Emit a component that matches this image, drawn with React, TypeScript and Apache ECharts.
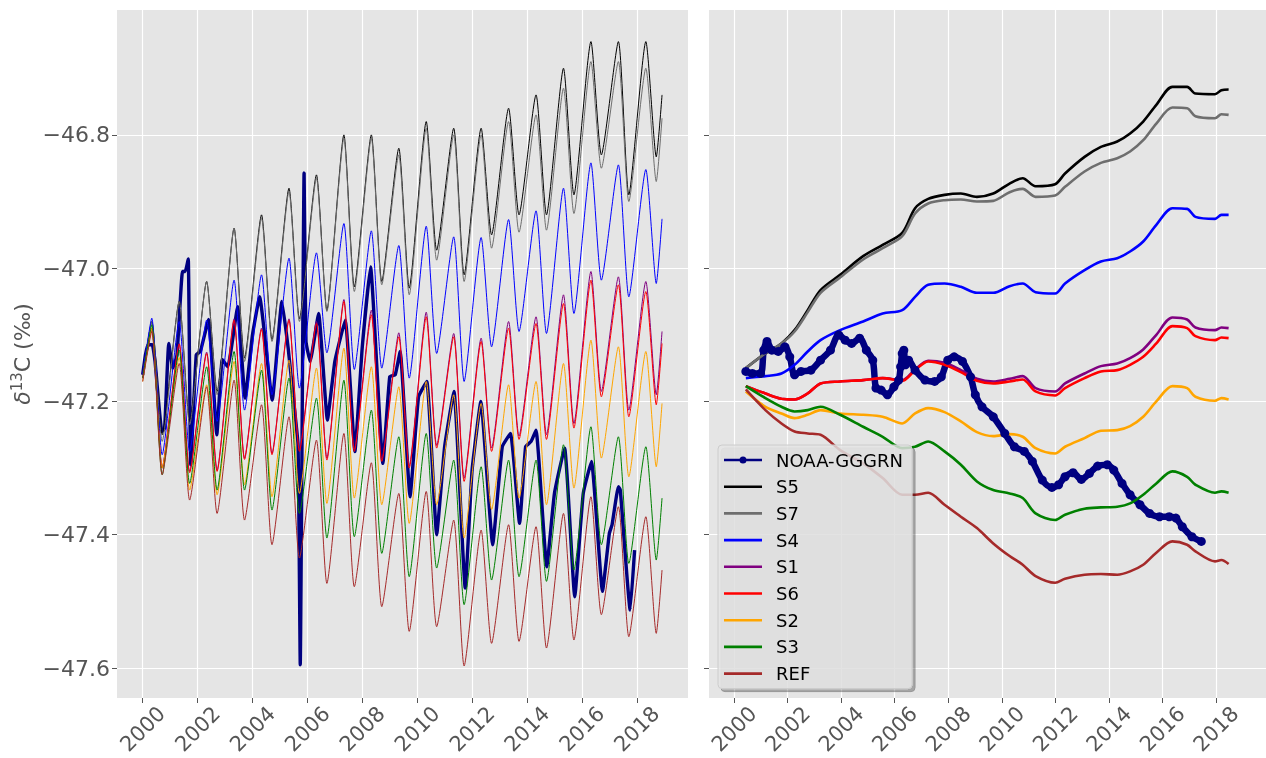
import React, { useEffect, useRef } from "react";
import * as echarts from "echarts";

const FONT = "DejaVu Sans";
const NAMES = ["NOAA-GGGRN", "S5", "S7", "S4", "S1", "S6", "S2", "S3", "REF"];
const COLORS: Record<string, string> = {
  "NOAA-GGGRN": "#000080",
  S5: "#000000",
  S7: "#6e6e6e",
  S4: "#0000ff",
  S1: "#800080",
  S6: "#ff0000",
  S2: "#ffa500",
  S3: "#008000",
  REF: "#a52a2a",
};
const LINE_ICON = "path://M0 0H38V2.6H0Z";
const DOT_ICON = "path://M0 3H38V5.6H0Z M15.5 4.3A3.5 3.5 0 1 1 22.5 4.3A3.5 3.5 0 1 1 15.5 4.3Z";

// ---------- axes ----------
const X_MIN = 1999.064;
const X_MAX = 2019.866;
const Y_MIN = -47.645;
const Y_MAX = -46.6126;
const X_TICKS = [2000, 2002, 2004, 2006, 2008, 2010, 2012, 2014, 2016, 2018];
const Y_TICKS = [-47.6, -47.4, -47.2, -47.0, -46.8];

// ---------- left panel: seasonal cycles (start, yearly peaks & troughs, end) ----------
const CYCLE_YEARS = [2000, 2001, 2002, 2003, 2004, 2005, 2006, 2007, 2008, 2009, 2010, 2011, 2012, 2013, 2014, 2015, 2016, 2017, 2018];
const PEAK_TIME = 0.33;
const TROUGH_TIME = 0.71;
const START_TIME = 2000.0;
const END_TIME = 2018.92;

const S5_ENDS = [-47.16, -46.74];
const S5_PEAKS = [-47.08, -47.05, -47.02, -46.94, -46.92, -46.88, -46.86, -46.8, -46.8, -46.82, -46.78, -46.79, -46.79, -46.76, -46.74, -46.7, -46.66, -46.66, -46.66];
const S5_TROUGHS = [-47.25, -47.23, -47.185, -47.135, -47.107, -47.076, -47.063, -47.028, -47.02, -47.03, -46.973, -47.01, -46.95, -46.92, -46.92, -46.89, -46.83, -46.89, -46.833];

const S7_ENDS = [-47.16, -46.775];
const S7_PEAKS = [-47.08, -47.05, -47.02, -46.94, -46.925, -46.885, -46.865, -46.805, -46.805, -46.83, -46.79, -46.8, -46.8, -46.78, -46.77, -46.73, -46.69, -46.69, -46.7];
const S7_TROUGHS = [-47.26, -47.235, -47.19, -47.14, -47.11, -47.08, -47.065, -47.035, -47.025, -47.04, -46.988, -47.02, -46.97, -46.946, -46.943, -46.918, -46.85, -46.9, -46.87];

const S4_ENDS = [-47.16, -46.926];
const S4_PEAKS = [-47.075, -47.08, -47.078, -47.018, -47.01, -46.985, -46.977, -46.933, -46.944, -46.966, -46.937, -46.953, -46.954, -46.927, -46.914, -46.88, -46.842, -46.845, -46.852];
const S4_TROUGHS = [-47.28, -47.275, -47.23, -47.213, -47.19, -47.18, -47.127, -47.152, -47.15, -47.165, -47.128, -47.17, -47.118, -47.095, -47.098, -47.068, -47.018, -47.043, -47.023];

const S1_ENDS = [-47.165, -47.095];
const S1_PEAKS = [-47.09, -47.113, -47.126, -47.076, -47.09, -47.076, -47.08, -47.047, -47.063, -47.097, -47.066, -47.098, -47.105, -47.08, -47.073, -47.04, -47.005, -47.013, -47.02];
const S1_TROUGHS = [-47.3, -47.305, -47.303, -47.285, -47.278, -47.272, -47.285, -47.272, -47.287, -47.297, -47.266, -47.315, -47.27, -47.252, -47.25, -47.233, -47.185, -47.213, -47.19];

const S6_ENDS = [-47.165, -47.113];
const S6_PEAKS = [-47.09, -47.114, -47.128, -47.078, -47.092, -47.078, -47.083, -47.05, -47.07, -47.103, -47.073, -47.103, -47.11, -47.09, -47.083, -47.053, -47.018, -47.025, -47.035];
const S6_TROUGHS = [-47.3, -47.307, -47.305, -47.287, -47.28, -47.275, -47.288, -47.275, -47.29, -47.3, -47.27, -47.32, -47.275, -47.257, -47.257, -47.24, -47.193, -47.223, -47.205];

const S2_ENDS = [-47.17, -47.203];
const S2_PEAKS = [-47.09, -47.134, -47.175, -47.14, -47.143, -47.138, -47.15, -47.12, -47.148, -47.178, -47.17, -47.19, -47.203, -47.175, -47.17, -47.143, -47.108, -47.118, -47.125];
const S2_TROUGHS = [-47.3, -47.333, -47.34, -47.325, -47.343, -47.338, -47.353, -47.345, -47.355, -47.383, -47.355, -47.405, -47.362, -47.345, -47.355, -47.33, -47.285, -47.313, -47.298];

const S3_ENDS = [-47.165, -47.345];
const S3_PEAKS = [-47.085, -47.123, -47.148, -47.125, -47.153, -47.165, -47.195, -47.168, -47.213, -47.253, -47.248, -47.288, -47.298, -47.288, -47.288, -47.265, -47.238, -47.253, -47.268];
const S3_TROUGHS = [-47.31, -47.323, -47.333, -47.333, -47.363, -47.368, -47.405, -47.403, -47.428, -47.463, -47.45, -47.505, -47.468, -47.463, -47.47, -47.453, -47.415, -47.443, -47.438];

const REF_ENDS = [-47.17, -47.453];
const REF_PEAKS = [-47.095, -47.143, -47.178, -47.168, -47.205, -47.223, -47.258, -47.248, -47.292, -47.338, -47.335, -47.378, -47.393, -47.385, -47.388, -47.368, -47.343, -47.358, -47.373];
const REF_TROUGHS = [-47.31, -47.348, -47.368, -47.378, -47.415, -47.435, -47.473, -47.478, -47.508, -47.545, -47.538, -47.597, -47.563, -47.56, -47.57, -47.558, -47.52, -47.553, -47.548];

// NOAA monthly record (left panel)
const NOAA_MONTH_T = [2000.0, 2000.1, 2000.2, 2000.35, 2000.45, 2000.7, 2000.8, 2000.95, 2001.1, 2001.25, 2001.45, 2001.55, 2001.66, 2001.75, 2001.95, 2002.1, 2002.4, 2002.7, 2002.9, 2003.1, 2003.46, 2003.73, 2004.0, 2004.26, 2004.72, 2005.07, 2005.3, 2005.5, 2005.66, 2005.74, 2005.88, 2005.95, 2006.1, 2006.41, 2006.73, 2007.0, 2007.38, 2007.73, 2008.0, 2008.3, 2008.75, 2009.0, 2009.2, 2009.38, 2009.74, 2010.05, 2010.35, 2010.71, 2011.0, 2011.34, 2011.75, 2012.0, 2012.32, 2012.75, 2013.1, 2013.4, 2013.73, 2013.95, 2014.15, 2014.33, 2014.72, 2015.0, 2015.37, 2015.74, 2016.05, 2016.35, 2016.75, 2017.0, 2017.1, 2017.33, 2017.4, 2017.76, 2017.92];
const NOAA_MONTH_V = [-47.16, -47.13, -47.115, -47.115, -47.14, -47.245, -47.24, -47.113, -47.15, -47.13, -47.005, -47.005, -46.986, -47.295, -47.13, -47.125, -47.077, -47.25, -47.137, -47.148, -47.058, -47.195, -47.1, -47.043, -47.198, -47.05, -47.12, -47.2, -47.265, -47.595, -46.857, -47.11, -47.14, -47.068, -47.228, -47.14, -47.078, -47.275, -47.118, -46.998, -47.293, -47.163, -47.16, -47.125, -47.343, -47.193, -47.17, -47.4, -47.268, -47.185, -47.48, -47.303, -47.2, -47.415, -47.268, -47.248, -47.383, -47.268, -47.26, -47.243, -47.448, -47.338, -47.27, -47.493, -47.338, -47.29, -47.485, -47.398, -47.385, -47.328, -47.333, -47.513, -47.423];

// ---------- right panel: smoothed trends ----------
const TREND_T = [2000.44, 2001.17, 2001.77, 2002.26, 2002.75, 2003.23, 2003.96, 2004.82, 2005.55, 2006.28, 2006.76, 2007.25, 2007.86, 2008.47, 2009.07, 2009.68, 2010.29, 2010.78, 2011.26, 2011.99, 2012.36, 2013.09, 2013.7, 2014.31, 2014.79, 2015.28, 2015.77, 2016.37, 2016.92, 2017.23, 2017.96, 2018.2, 2018.47];
const S5_TREND = [-47.15, -47.128, -47.113, -47.093, -47.063, -47.033, -47.01, -46.982, -46.965, -46.947, -46.91, -46.896, -46.89, -46.888, -46.893, -46.888, -46.873, -46.865, -46.877, -46.874, -46.858, -46.833, -46.818, -46.81, -46.798, -46.78, -46.755, -46.728, -46.728, -46.738, -46.739, -46.733, -46.732];
const S7_TREND = [-47.15, -47.128, -47.113, -47.095, -47.066, -47.037, -47.014, -46.987, -46.97, -46.952, -46.918, -46.903, -46.898, -46.897, -46.9, -46.899, -46.886, -46.881, -46.893, -46.891, -46.878, -46.855, -46.842, -46.835, -46.825, -46.808, -46.783, -46.759, -46.76, -46.772, -46.775, -46.769, -46.77];
const S4_TREND = [-47.165, -47.162, -47.158, -47.145, -47.125, -47.108, -47.093, -47.08, -47.068, -47.063, -47.043, -47.025, -47.023, -47.028, -47.037, -47.037, -47.027, -47.023, -47.036, -47.038, -47.023, -47.003, -46.99, -46.985, -46.975, -46.96, -46.935, -46.91, -46.911, -46.923, -46.926, -46.92, -46.92];
const S1_TREND = [-47.177, -47.188, -47.196, -47.197, -47.188, -47.173, -47.17, -47.168, -47.165, -47.168, -47.152, -47.139, -47.142, -47.153, -47.166, -47.17, -47.166, -47.162, -47.18, -47.185, -47.173, -47.158, -47.147, -47.143, -47.135, -47.122, -47.1, -47.074, -47.077, -47.089, -47.093, -47.089, -47.09];
const S6_TREND = [-47.177, -47.188, -47.196, -47.197, -47.188, -47.173, -47.17, -47.168, -47.165, -47.169, -47.153, -47.14, -47.145, -47.156, -47.169, -47.173, -47.17, -47.167, -47.185, -47.191, -47.18, -47.165, -47.155, -47.153, -47.145, -47.133, -47.113, -47.087, -47.09, -47.102, -47.108, -47.104, -47.105];
const S2_TREND = [-47.185, -47.208, -47.218, -47.225, -47.22, -47.213, -47.218, -47.22, -47.223, -47.233, -47.218, -47.21, -47.216, -47.23, -47.246, -47.252, -47.249, -47.253, -47.27, -47.278, -47.268, -47.255, -47.244, -47.243, -47.237, -47.223, -47.2, -47.177, -47.18, -47.193, -47.199, -47.195, -47.197];
const S3_TREND = [-47.177, -47.195, -47.208, -47.215, -47.213, -47.208, -47.22, -47.238, -47.253, -47.27, -47.268, -47.26, -47.275, -47.295, -47.32, -47.333, -47.338, -47.345, -47.368, -47.378, -47.37, -47.361, -47.359, -47.358, -47.353, -47.34, -47.323, -47.305, -47.313, -47.325, -47.337, -47.335, -47.337];
const REF_TREND = [-47.182, -47.213, -47.233, -47.245, -47.248, -47.25, -47.273, -47.293, -47.315, -47.34, -47.34, -47.337, -47.355, -47.373, -47.39, -47.413, -47.432, -47.445, -47.462, -47.472, -47.466, -47.46, -47.459, -47.46, -47.455, -47.445, -47.427, -47.41, -47.415, -47.425, -47.44, -47.438, -47.444];

const NOAA_TREND_T = [2000.44, 2000.68, 2000.99, 2001.11, 2001.23, 2001.41, 2001.65, 2001.9, 2002.08, 2002.26, 2002.5, 2002.87, 2003.23, 2003.6, 2003.91, 2004.15, 2004.39, 2004.69, 2004.94, 2005.18, 2005.3, 2005.49, 2005.73, 2005.97, 2006.15, 2006.22, 2006.28, 2006.34, 2006.4, 2006.52, 2006.76, 2007.13, 2007.49, 2007.74, 2007.98, 2008.22, 2008.53, 2008.83, 2009.01, 2009.26, 2009.68, 2010.11, 2010.47, 2010.84, 2011.14, 2011.51, 2011.87, 2012.12, 2012.36, 2012.66, 2012.97, 2013.27, 2013.58, 2013.94, 2014.18, 2014.49, 2014.79, 2015.16, 2015.52, 2015.89, 2016.25, 2016.5, 2016.74, 2017.1, 2017.45];
const NOAA_TREND_V = [-47.155, -47.158, -47.158, -47.123, -47.11, -47.123, -47.125, -47.118, -47.133, -47.16, -47.155, -47.153, -47.138, -47.123, -47.1, -47.108, -47.113, -47.105, -47.123, -47.138, -47.18, -47.183, -47.19, -47.178, -47.168, -47.148, -47.128, -47.123, -47.145, -47.138, -47.153, -47.168, -47.17, -47.163, -47.138, -47.133, -47.14, -47.163, -47.19, -47.208, -47.223, -47.248, -47.268, -47.275, -47.29, -47.318, -47.329, -47.325, -47.313, -47.307, -47.317, -47.308, -47.297, -47.295, -47.303, -47.323, -47.34, -47.355, -47.368, -47.373, -47.373, -47.375, -47.388, -47.403, -47.41];

// ---------- builders ----------
function cycle(ends: number[], peaks: number[], troughs: number[]): number[][] {
  const pts: number[][] = [[START_TIME, ends[0]]];
  CYCLE_YEARS.forEach((y, i) => {
    pts.push([y + PEAK_TIME, peaks[i]]);
    pts.push([y + TROUGH_TIME, troughs[i]]);
  });
  pts.push([END_TIME, ends[1]]);
  return pts;
}
function zip(t: number[], v: number[]): number[][] {
  return t.map((x, i) => [x, v[i]]);
}

const LEFT_DATA: Record<string, number[][]> = {
  "NOAA-GGGRN": zip(NOAA_MONTH_T, NOAA_MONTH_V),
  S5: cycle(S5_ENDS, S5_PEAKS, S5_TROUGHS),
  S7: cycle(S7_ENDS, S7_PEAKS, S7_TROUGHS),
  S4: cycle(S4_ENDS, S4_PEAKS, S4_TROUGHS),
  S1: cycle(S1_ENDS, S1_PEAKS, S1_TROUGHS),
  S6: cycle(S6_ENDS, S6_PEAKS, S6_TROUGHS),
  S2: cycle(S2_ENDS, S2_PEAKS, S2_TROUGHS),
  S3: cycle(S3_ENDS, S3_PEAKS, S3_TROUGHS),
  REF: cycle(REF_ENDS, REF_PEAKS, REF_TROUGHS),
};
const RIGHT_DATA: Record<string, number[][]> = {
  "NOAA-GGGRN": zip(NOAA_TREND_T, NOAA_TREND_V),
  S5: zip(TREND_T, S5_TREND),
  S7: zip(TREND_T, S7_TREND),
  S4: zip(TREND_T, S4_TREND),
  S1: zip(TREND_T, S1_TREND),
  S6: zip(TREND_T, S6_TREND),
  S2: zip(TREND_T, S2_TREND),
  S3: zip(TREND_T, S3_TREND),
  REF: zip(TREND_T, REF_TREND),
};

function fmtY(v: number): string {
  return (v < 0 ? "\u2212" : "") + Math.abs(v).toFixed(1);
}

function makeX(gridIndex: number) {
  return {
    type: "value",
    gridIndex,
    min: X_MIN,
    max: X_MAX,
    axisLine: { show: false },
    axisTick: { show: true, length: 5, lineStyle: { color: "#555555", width: 1 }, customValues: X_TICKS },
    axisLabel: {
      show: true,
      customValues: X_TICKS,
      rotate: 45,
      margin: 31,
      align: "center",
      verticalAlign: "middle",
      fontSize: 21,
      color: "#555555",
      fontFamily: FONT,
      formatter: (v: number) => String(Math.round(v)),
    },
    splitLine: { show: true, lineStyle: { color: "#ffffff", width: 1.2 } },
  };
}
function makeY(gridIndex: number, labels: boolean) {
  const ax: any = {
    type: "value",
    gridIndex,
    min: Y_MIN,
    max: Y_MAX,
    axisLine: { show: false },
    axisTick: { show: true, length: 5, lineStyle: { color: "#555555", width: 1 }, customValues: Y_TICKS },
    axisLabel: {
      show: labels,
      customValues: Y_TICKS,
      margin: 7,
      fontSize: 22,
      color: "#555555",
      fontFamily: FONT,
      formatter: fmtY,
    },
    splitLine: { show: true, lineStyle: { color: "#ffffff", width: 1.2 } },
  };
  if (labels) {
    ax.name = "{i|δ}{s|13}{n|C (‰)}";
    ax.nameLocation = "middle";
    ax.nameGap = 84;
    ax.nameRotate = 90;
    ax.nameTextStyle = {
      color: "#555555",
      fontSize: 22,
      fontFamily: FONT,
      rich: {
        i: { fontStyle: "italic", fontSize: 22, color: "#555555", fontFamily: FONT, verticalAlign: "bottom", lineHeight: 24 },
        s: { fontSize: 15, color: "#555555", fontFamily: FONT, verticalAlign: "top", lineHeight: 15, padding: [0, 0, 9, 0] },
        n: { fontSize: 22, color: "#555555", fontFamily: FONT, verticalAlign: "bottom", lineHeight: 24 },
      },
    };
  }
  return ax;
}

export default function App() {
  const ref = useRef<HTMLDivElement>(null);
  useEffect(() => {
    if (!ref.current) return;
    const chart = echarts.init(ref.current, undefined, { renderer: "svg" });
    const series: any[] = [];
    // right panel: smoothed trends
    NAMES.forEach((name) => {
      const isNoaa = name === "NOAA-GGGRN";
      series.push({
        type: "line",
        name,
        xAxisIndex: 1,
        yAxisIndex: 1,
        data: RIGHT_DATA[name],
        smooth: 0.3,
        symbol: isNoaa ? "circle" : "none",
        symbolSize: 9,
        showSymbol: isNoaa,
        color: COLORS[name],
        itemStyle: { color: COLORS[name] },
        lineStyle: { color: COLORS[name], width: isNoaa ? 6.5 : 2.6 },
        emphasis: { disabled: true },
      });
    });
    // left panel: monthly cycles
    NAMES.forEach((name) => {
      const isNoaa = name === "NOAA-GGGRN";
      series.push({
        type: "line",
        name,
        xAxisIndex: 0,
        yAxisIndex: 0,
        data: LEFT_DATA[name],
        smooth: isNoaa ? 0.12 : 0.2,
        symbol: "none",
        showSymbol: false,
        color: COLORS[name],
        lineStyle: { color: COLORS[name], width: isNoaa ? 3.4 : 1 },
        emphasis: { disabled: true },
      });
    });

    chart.setOption({
      animation: false,
      textStyle: { fontFamily: FONT },
      grid: [
        { left: 117, top: 10, width: 571, height: 688, show: true, backgroundColor: "#E5E5E5", borderWidth: 0 },
        { left: 709, top: 10, width: 571, height: 688, show: true, backgroundColor: "#E5E5E5", borderWidth: 0 },
      ],
      xAxis: [makeX(0), makeX(1)],
      yAxis: [makeY(0, true), makeY(1, false)],
      legend: {
        orient: "vertical",
        left: 718,
        top: 445,
        data: NAMES.map((name) => ({ name, icon: name === "NOAA-GGGRN" ? DOT_ICON : LINE_ICON })),
        itemWidth: 38,
        itemHeight: 9,
        itemGap: 8.7,
        selectedMode: false,
        itemStyle: { borderWidth: 0 },
        textStyle: { fontSize: 18, color: "#000000", fontFamily: FONT, padding: [0, 0, 0, 9] },
        backgroundColor: "rgba(229,229,229,0.8)",
        borderColor: "#cccccc",
        borderWidth: 1,
        borderRadius: 4,
        padding: [6, 9, 6, 6],
        shadowColor: "rgba(0,0,0,0.35)",
        shadowOffsetX: 3,
        shadowOffsetY: 3,
        shadowBlur: 0,
      },
      series,
    });
    return () => chart.dispose();
  }, []);
  return <div ref={ref} style={{ position: "fixed", left: 0, top: 0, width: 1266, height: 758 }} />;
}
